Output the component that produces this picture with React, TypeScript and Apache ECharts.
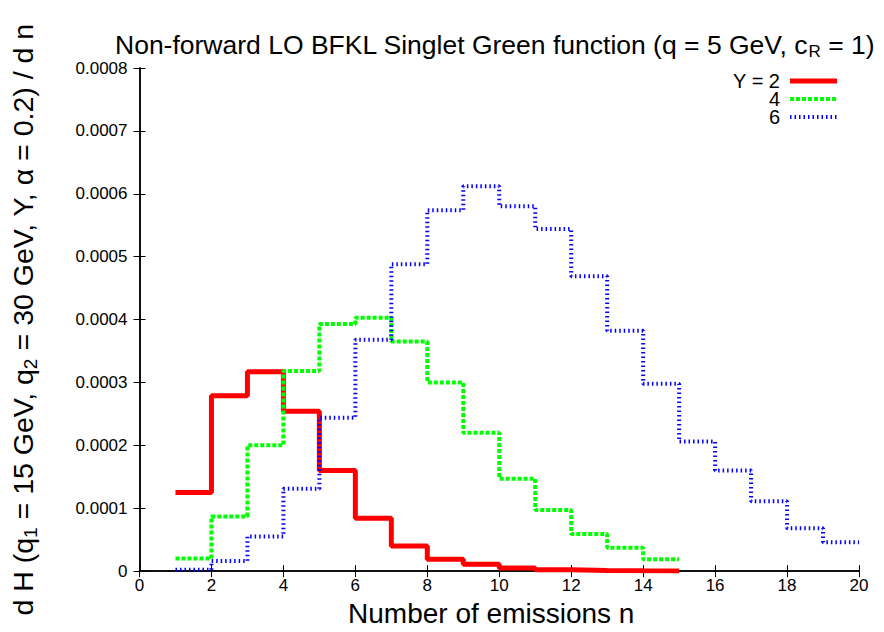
import React, { useEffect, useRef } from "react";
import * as echarts from "echarts";

const emissions = [1, 2, 3, 4, 5, 6, 7, 8, 9, 10, 11, 12, 13, 14, 15, 16, 17, 18, 19];
const y2Values = [0.000125, 0.000279, 0.000317, 0.000254, 0.00016, 0.000084, 0.00004, 0.000019, 0.000011, 0.000005, 0.000002, 0.000001, 0.0000005, 0.0000002];
const y4Values = [0.00002, 0.000087, 0.0002, 0.000318, 0.000393, 0.000403, 0.000365, 0.0003, 0.00022, 0.000147, 0.000097, 0.000059, 0.000037, 0.000019];
const y6Values = [0.000002, 0.000016, 0.000055, 0.000131, 0.000244, 0.000368, 0.000488, 0.000574, 0.000612, 0.00058, 0.000544, 0.000469, 0.000382, 0.000298, 0.000206, 0.00016, 0.000111, 0.000068, 0.000046];
const yTickLabels = ["0", "0.0001", "0.0002", "0.0003", "0.0004", "0.0005", "0.0006", "0.0007", "0.0008"];
const seriesNames = ["Y = 2", "4", "6"];

const FONT = "Liberation Sans, Arial, sans-serif";

function histData(vals: number[]) {
  const pts = vals.map((v, i) => [emissions[i], v]);
  pts.push([emissions[vals.length - 1] + 1, vals[vals.length - 1]]);
  return pts;
}

export default function App() {
  const ref = useRef<HTMLDivElement>(null);
  useEffect(() => {
    const chart = echarts.init(ref.current!, null, { renderer: "svg" });
    const axisCommon = {
      axisLine: { show: true, lineStyle: { color: "#000", width: 1.5 } },
      axisTick: { show: true, inside: true, length: 6, lineStyle: { color: "#000" } },
      splitLine: { show: false },
    };
    const legendY = [81, 99, 117];
    const legendStyles = [
      { stroke: "#ff0000", lineWidth: 5, lineDash: null as any },
      { stroke: "#00ff00", lineWidth: 4, lineDash: [4, 2] },
      { stroke: "#0000ff", lineWidth: 4, lineDash: [1.5, 3] },
    ];
    const graphic: any[] = [];
    seriesNames.forEach((nm, i) => {
      graphic.push({
        type: "text",
        x: 780,
        y: legendY[i],
        style: {
          text: nm,
          font: `20px ${FONT}`,
          fill: "#000",
          align: "right",
          verticalAlign: "middle",
        },
      });
      graphic.push({
        type: "line",
        shape: { x1: 790, y1: legendY[i], x2: 837, y2: legendY[i] },
        style: { ...legendStyles[i], lineDash: legendStyles[i].lineDash || undefined },
      });
    });
    chart.setOption({
      animation: false,
      backgroundColor: "#fff",
      title: {
        text: "Non-forward LO BFKL Singlet Green function (q = 5 GeV, c{s|R} = 1)",
        left: 110,
        top: 24,
        textStyle: {
          fontFamily: FONT,
          fontSize: 26.5,
          fontWeight: "normal",
          color: "#000",
          rich: { s: { fontSize: 17, fontFamily: FONT, color: "#000", padding: [14, 0, 0, 0] } },
        },
      },
      grid: { left: 137, right: 25, top: 68, bottom: 59 },
      xAxis: [
        {
          type: "value",
          min: 0,
          max: 20,
          interval: 2,
          name: "Number of emissions n",
          nameLocation: "middle",
          nameGap: 21,
          nameTextStyle: { fontFamily: FONT, fontSize: 28, color: "#000", padding: [0, 16, 0, 0] },
          axisLabel: { fontFamily: FONT, fontSize: 17, color: "#000", margin: 6 },
          ...axisCommon,
        },
        {
          type: "value",
          position: "top",
          min: 0,
          max: 20,
          interval: 2,
          axisLabel: { show: false },
          ...axisCommon,
        },
      ],
      yAxis: [
        {
          type: "value",
          min: 0,
          max: 0.0008,
          interval: 0.0001,
          name:
            "{a|d H (q}{s|1}{a| = 15 GeV, q}{s|2}{a| = 30 GeV, Y, α = 0.2) / d n}",
          nameLocation: "middle",
          nameRotate: 90,
          nameGap: 100,
          nameTextStyle: {
            fontFamily: FONT,
            color: "#000",
            rich: {
              a: { fontSize: 28.5, fontFamily: FONT, color: "#000" },
              s: { fontSize: 19, fontFamily: FONT, color: "#000", padding: [15, 0, 0, 0] },
            },
          },
          axisLabel: {
            fontFamily: FONT,
            fontSize: 17,
            color: "#000",
            margin: 12,
            formatter: (v: number) => yTickLabels[Math.round(v / 0.0001)],
          },
          ...axisCommon,
        },
        {
          type: "value",
          position: "right",
          min: 0,
          max: 0.0008,
          interval: 0.0001,
          axisLabel: { show: false },
          ...axisCommon,
        },
      ],
      series: [
        {
          name: seriesNames[0],
          type: "line",
          step: "end",
          showSymbol: false,
          data: histData(y2Values),
          lineStyle: { color: "#ff0000", width: 5 },
          z: 3,
        },
        {
          name: seriesNames[1],
          type: "line",
          step: "end",
          showSymbol: false,
          data: histData(y4Values),
          lineStyle: { color: "#00ff00", width: 4, type: [4, 2] },
          z: 4,
        },
        {
          name: seriesNames[2],
          type: "line",
          step: "end",
          showSymbol: false,
          data: histData(y6Values),
          lineStyle: { color: "#0000ff", width: 4, type: [1.5, 3] },
          z: 5,
        },
      ],
      graphic,
    });
    return () => chart.dispose();
  }, []);
  return <div ref={ref} style={{ width: 884, height: 632, position: "absolute", left: 0, top: 0 }} />;
}
